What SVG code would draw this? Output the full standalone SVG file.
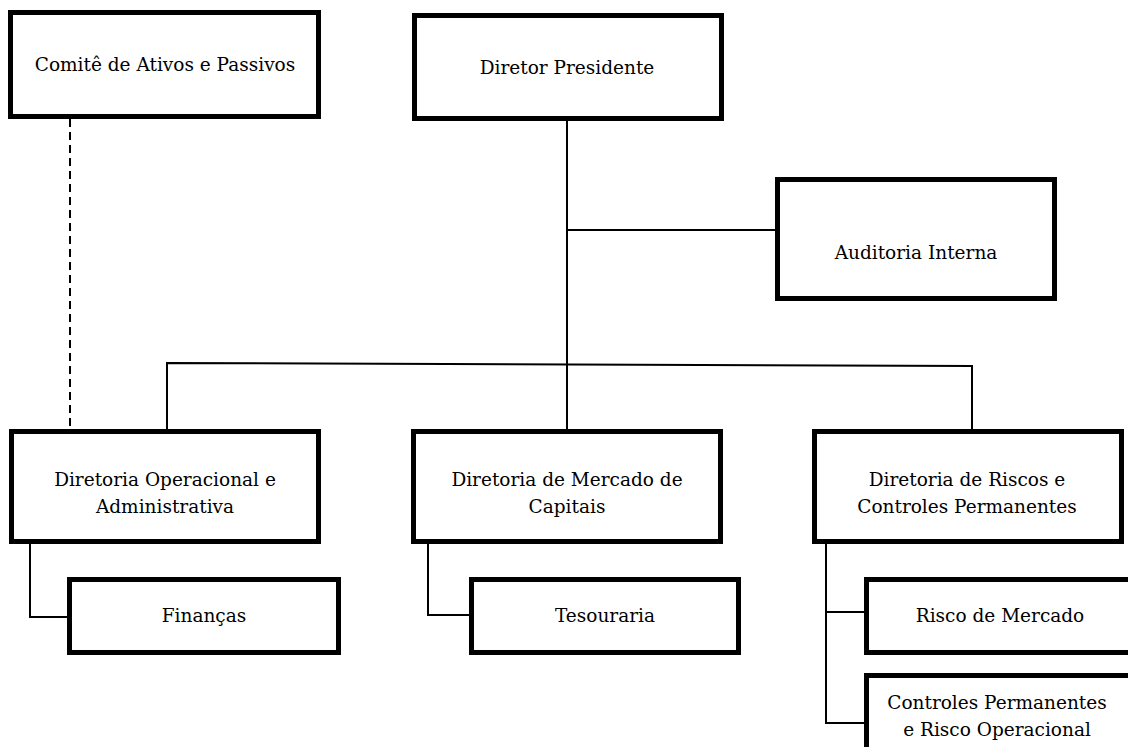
<svg xmlns="http://www.w3.org/2000/svg" width="1128" height="747" viewBox="0 0 1128 747">
<style>
.box{fill:#fff;stroke:#000;stroke-width:5}
.ln{fill:none;stroke:#000;stroke-width:2}
.dash{fill:none;stroke:#000;stroke-width:2;stroke-dasharray:8 5}
text{font-family:"DejaVu Serif","Liberation Serif",serif;font-size:18.5px;fill:#000;text-anchor:middle}
</style>
<rect width="1128" height="747" fill="#fff"/>
<g id="connectors">
<line class="dash" x1="70" y1="119" x2="70" y2="438"/>
<line class="ln" x1="567" y1="121" x2="567" y2="431"/>
<line class="ln" x1="567" y1="230" x2="775" y2="230"/>
<polyline class="ln" points="167,431 167,363 972,366 972,431"/>
<polyline class="ln" points="30,544 30,617 69,617"/>
<polyline class="ln" points="428,544 428,615 471,615"/>
<polyline class="ln" points="826,544 826,723 866,723"/>
<line class="ln" x1="826" y1="612" x2="866" y2="612"/>
</g>
<g id="comite">
<rect class="box" x="10.5" y="12.5" width="308" height="104"/>
<text x="165" y="71">Comitê de Ativos e Passivos</text>
</g>
<g id="diretor">
<rect class="box" x="414.5" y="15.5" width="307" height="103"/>
<text x="567" y="74">Diretor Presidente</text>
</g>
<g id="auditoria">
<rect class="box" x="777.5" y="179.5" width="277" height="119"/>
<text x="916" y="259">Auditoria Interna</text>
</g>
<g id="dir-operacional">
<rect class="box" x="11.5" y="431.5" width="307" height="110"/>
<text x="165" y="486">Diretoria Operacional e</text>
<text x="165" y="513">Administrativa</text>
</g>
<g id="dir-mercado">
<rect class="box" x="413.5" y="431.5" width="307" height="110"/>
<text x="567" y="486">Diretoria de Mercado de</text>
<text x="567" y="513">Capitais</text>
</g>
<g id="dir-riscos">
<rect class="box" x="814.5" y="431.5" width="307" height="110"/>
<text x="967" y="486">Diretoria de Riscos e</text>
<text x="967" y="513">Controles Permanentes</text>
</g>
<g id="financas">
<rect class="box" x="69.5" y="579.5" width="269" height="73"/>
<text x="204" y="622">Finanças</text>
</g>
<g id="tesouraria">
<rect class="box" x="471.5" y="579.5" width="267" height="73"/>
<text x="605" y="622">Tesouraria</text>
</g>
<g id="risco-mercado">
<rect class="box" x="866.5" y="579.5" width="280" height="73"/>
<text x="1000" y="622">Risco de Mercado</text>
</g>
<g id="controles">
<rect class="box" x="866.5" y="675.5" width="280" height="100"/>
<text x="997" y="709">Controles Permanentes</text>
<text x="997" y="736">e Risco Operacional</text>
</g>
</svg>
